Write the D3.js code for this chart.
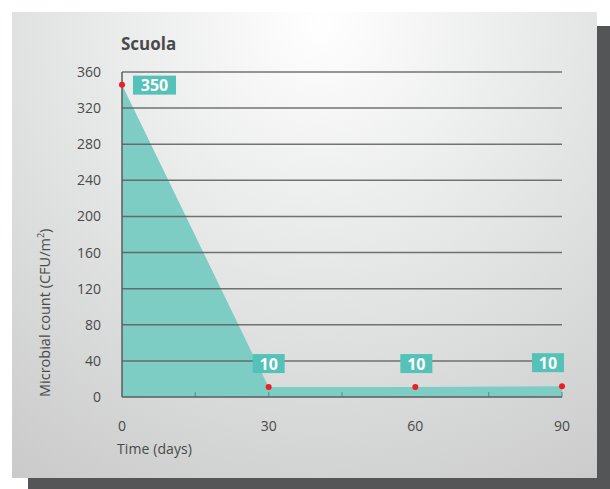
<!DOCTYPE html>
<html>
<head>
<meta charset="utf-8">
<script src="https://cdnjs.cloudflare.com/ajax/libs/d3/7.8.5/d3.min.js"></script>
<style>
body { margin: 0; background: #fff; }
svg { display: block; font-family: "Open Sans", "Noto Sans", sans-serif; }
</style>
</head>
<body>
<div id="container"><svg></svg></div>
<script>
let width = 610;
let height = 489;

// data
let days = [0, 30, 60, 90];
let counts = [346, 11, 11, 12];
let labels = ['350', '10', '10', '10'];
let yTicks = [0, 40, 80, 120, 160, 200, 240, 280, 320, 360];
let xTicks = [0, 30, 60, 90];
let minorTicks = [15, 30, 45, 75, 90];

let svg = d3.select('#container').select('svg')
    .attr('width', width)
    .attr('height', height);

let defs = svg.append('defs');
let grad = defs.append('radialGradient')
    .attr('id', 'bg')
    .attr('gradientUnits', 'userSpaceOnUse')
    .attr('cx', 320).attr('cy', 20).attr('r', 560);
grad.append('stop').attr('offset', '0%').attr('stop-color', '#ffffff');
grad.append('stop').attr('offset', '55%').attr('stop-color', '#e0e1e1');
grad.append('stop').attr('offset', '100%').attr('stop-color', '#c8c9c8');

// shadow + panel
svg.append('rect').attr('x', 28).attr('y', 26).attr('width', 582).attr('height', 463).attr('fill', '#545557');
svg.append('rect').attr('x', 12).attr('y', 12).attr('width', 585).attr('height', 466).attr('fill', 'url(#bg)');

let xScale = d3.scaleLinear().domain([0, 90]).range([122, 562]);
let yScale = d3.scaleLinear().domain([0, 360]).range([397, 72]);

// area
let area = d3.area()
    .x((d, i) => xScale(days[i]))
    .y0(yScale(0))
    .y1(d => yScale(d));
svg.append('path')
    .datum(counts)
    .attr('d', area)
    .attr('fill', '#7ecdc5');

// gridlines
svg.append('g')
    .selectAll('line')
    .data(yTicks.slice(1))
    .join('line')
    .attr('x1', xScale(0)).attr('x2', xScale(90))
    .attr('y1', d => yScale(d)).attr('y2', d => yScale(d))
    .attr('stroke', '#5c5c5c')
    .attr('stroke-opacity', 0.85)
    .attr('stroke-width', 1.5);

// y axis line
svg.append('line')
    .attr('x1', xScale(0)).attr('x2', xScale(0))
    .attr('y1', yScale(0)).attr('y2', yScale(360))
    .attr('stroke', '#5c5c5c').attr('stroke-width', 1.5);

// minor ticks on x axis
svg.append('g')
    .selectAll('line')
    .data(minorTicks)
    .join('line')
    .attr('x1', d => xScale(d)).attr('x2', d => xScale(d))
    .attr('y1', yScale(0)).attr('y2', yScale(0) - 5)
    .attr('stroke', '#4f9c96').attr('stroke-width', 1.2);

// x axis line
svg.append('line')
    .attr('x1', xScale(0)).attr('x2', xScale(90))
    .attr('y1', yScale(0)).attr('y2', yScale(0))
    .attr('stroke', '#5c5c5c').attr('stroke-width', 1.5);

// tick labels
svg.append('g')
    .selectAll('text')
    .data(yTicks)
    .join('text')
    .attr('x', 101)
    .attr('y', d => yScale(d) + 5)
    .attr('text-anchor', 'end')
    .attr('font-size', 14)
    .attr('fill', '#4a4a4a')
    .text(d => d);

svg.append('g')
    .selectAll('text')
    .data(xTicks)
    .join('text')
    .attr('x', d => xScale(d))
    .attr('y', 431)
    .attr('text-anchor', 'middle')
    .attr('font-size', 14)
    .attr('fill', '#4a4a4a')
    .text(d => d);

// axis titles
svg.append('text')
    .attr('x', 117).attr('y', 454)
    .attr('font-size', 14)
    .attr('fill', '#4a4a4a')
    .attr('textLength', 75)
    .text('Time (days)');

let yTitle = svg.append('text')
    .attr('transform', 'translate(50, 397) rotate(-90)')
    .attr('font-size', 14.5)
    .attr('fill', '#4a4a4a');
yTitle.append('tspan').text('Microbial count (CFU/m');
yTitle.append('tspan').attr('font-size', 9).attr('dy', -6).text('2');
yTitle.append('tspan').attr('dy', 6).text(')');

// title
svg.append('text')
    .attr('x', 121).attr('y', 50)
    .attr('font-size', 17)
    .attr('font-weight', 'bold')
    .attr('fill', '#4a4a4a')
    .text('Scuola');

// value labels
let boxes = [
    {dx: 11, dy: -9, w: 43},
    {dx: -16, dy: -33, w: 32},
    {dx: -15, dy: -33, w: 32},
    {dx: -30, dy: -33, w: 32}
];
let lab = svg.append('g')
    .selectAll('g')
    .data(counts)
    .join('g')
    .attr('transform', (d, i) => `translate(${xScale(days[i]) + boxes[i].dx}, ${yScale(d) + boxes[i].dy})`);
lab.append('rect')
    .attr('width', (d, i) => boxes[i].w)
    .attr('height', 19)
    .attr('fill', '#55c2b9');
lab.append('text')
    .attr('x', (d, i) => boxes[i].w / 2)
    .attr('y', 15.5)
    .attr('text-anchor', 'middle')
    .attr('font-size', 16)
    .attr('font-weight', 'bold')
    .attr('fill', '#fff')
    .text((d, i) => labels[i]);

// points
svg.append('g')
    .selectAll('circle')
    .data(counts)
    .join('circle')
    .attr('cx', (d, i) => xScale(days[i]))
    .attr('cy', d => yScale(d))
    .attr('r', 3)
    .attr('fill', '#ee1c25');
</script>
</body>
</html>
